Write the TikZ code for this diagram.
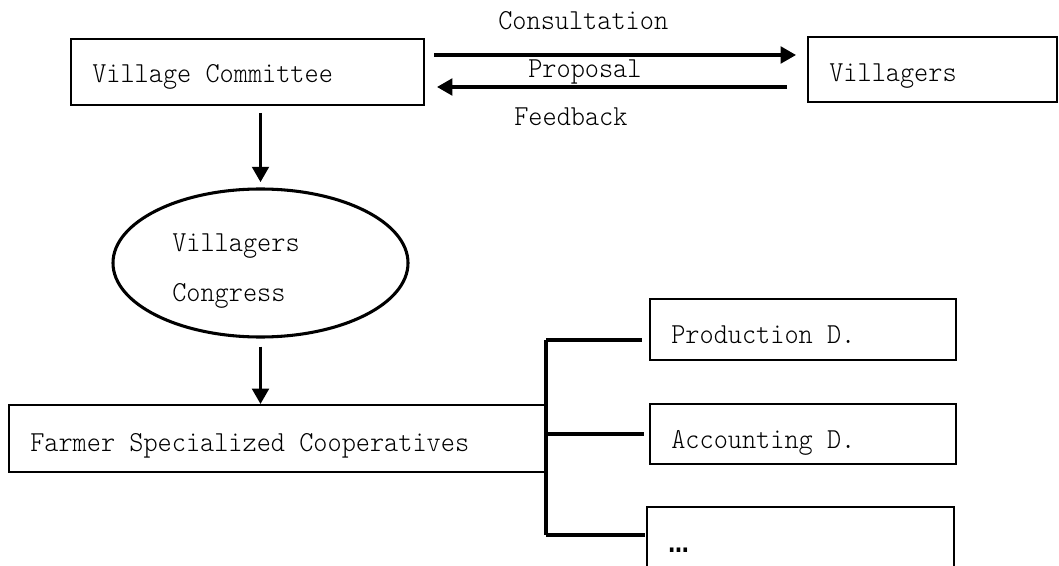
\documentclass[tikz,border=0pt]{standalone}
\usepackage{fontspec}
\setmainfont{Latin Modern Mono Light}[FakeStretch=0.93]
\newfontfamily\dotsfont{DejaVu Sans}[FakeStretch=0.85]
\usetikzlibrary{arrows.meta,shapes.geometric}
\begin{document}
\begin{tikzpicture}[x=0.75pt,y=-0.75pt,
  box/.style={draw, line width=1.5pt, rectangle, inner sep=0pt},
  oval/.style={draw, line width=2.3pt, ellipse, inner sep=0pt},
  lbl/.style={anchor=base west, inner sep=0pt, font=\fontsize{21.75pt}{26pt}\selectfont},
  arr/.style={line width=2.3pt, -{Triangle[length=11.5pt,width=12.5pt]}},
  brk/.style={line width=2.6pt}]
\useasboundingbox (0,0) rectangle (1059,566);
\clip (0,0) rectangle (1059,566);
% boxes
\node[box, minimum width=264.75pt, minimum height=49.5pt] (vc) at (247.5,72) {};
\node[box, minimum width=186.75pt, minimum height=48.75pt] (vil) at (932.5,69.5) {};
\node[oval, minimum width=221.25pt, minimum height=111pt] (cong) at (260.5,263) {};
\node[box, minimum width=402.75pt, minimum height=50.25pt] (farm) at (277.5,438.5) {};
\node[box, minimum width=229.5pt, minimum height=45.75pt] (prod) at (803,329.5) {};
\node[box, minimum width=229.5pt, minimum height=45pt] (acc) at (803,434) {};
\node[box, minimum width=230.25pt, minimum height=57pt] (etc) at (800.5,545) {};
% texts
\node[lbl] (tvc) at (92,83) {Village Committee};
\node[lbl] (tvil) at (829,82) {Villagers};
\node[lbl] (tcons) at (498,30) {Consultation};
\node[lbl] (tprop) at (528,78) {Proposal};
\node[lbl] (tfeed) at (514,126) {Feedback};
\node[lbl] (tc1) at (172,252) {Villagers};
\node[lbl] (tc2) at (172,302) {Congress};
\node[lbl] (tfarm) at (30,451) {Farmer Specialized Cooperatives};
\node[lbl] (tprod) at (671,344) {Production D.};
\node[lbl] (tacc) at (671,448) {Accounting D.};
\node[lbl, font=\dotsfont\bfseries\fontsize{18pt}{22pt}\selectfont] (tetc) at (668,552) {…};
% arrows
\draw[arr, shorten <=6.75pt, shorten >=8.25pt] (vc.east |- 0,55) -- (vil.west |- 0,55);
\draw[arr, shorten <=15pt, shorten >=9pt] (vil.west |- 0,87) -- (vc.east |- 0,87);
\draw[arr, shorten <=5.25pt, shorten >=4pt] (cong.north |- vc.south) -- (cong.north);
\draw[arr, shorten <=6pt] (cong.south) -- (cong.south |- farm.north);
% bracket
\coordinate (bt) at (546,340);
\coordinate (bb) at (546,535);
\draw[brk] (bt) -- (bb);
\draw[brk] (bt) -- ([xshift=-5.25pt]prod.west |- bt);
\draw[brk] (bt |- acc.west) -- ([xshift=-3.75pt]acc.west);
\draw[brk] (bb) -- ([xshift=-0.75pt]etc.west |- bb);
\end{tikzpicture}
\end{document}
